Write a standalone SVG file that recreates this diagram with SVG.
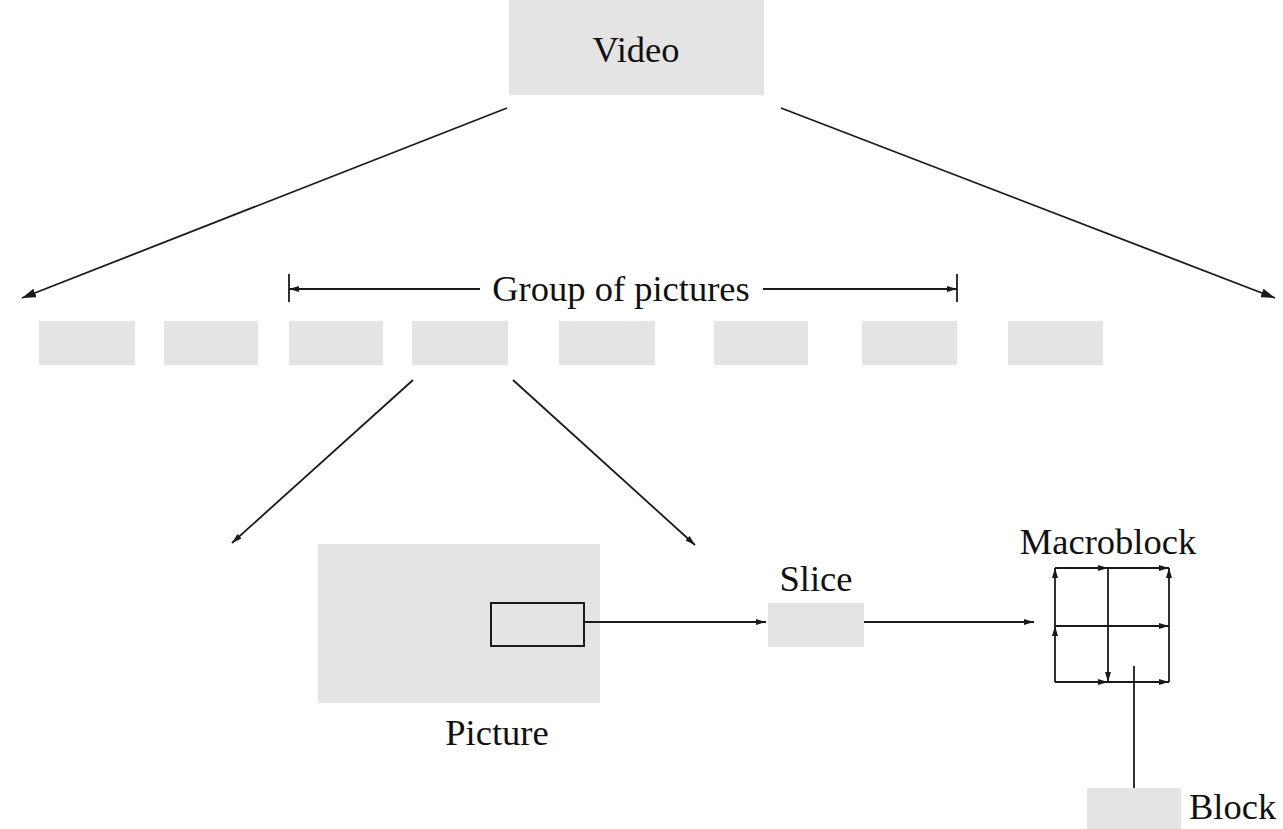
<svg xmlns="http://www.w3.org/2000/svg" width="1283" height="829" viewBox="0 0 1283 829">
  <style>
    .box { fill: #e4e4e4; stroke: none; }
    .ln { stroke: #1a1a1a; stroke-width: 1.8; fill: none; }
    .lbl { font-family: "Liberation Serif", "Times New Roman", serif; font-size: 36.5px; fill: #111; }
  </style>
  <defs>
    <marker id="arr" viewBox="0 0 14 9" refX="14" refY="4.5" markerWidth="14" markerHeight="9" markerUnits="userSpaceOnUse" orient="auto">
      <path d="M0,0 L14,4.5 L0,9 Z" fill="#1a1a1a"/>
    </marker>
    <marker id="arrs" viewBox="0 0 10 6" refX="10" refY="3" markerWidth="10" markerHeight="6" markerUnits="userSpaceOnUse" orient="auto">
      <path d="M0,0 L10,3 L0,6 Z" fill="#1a1a1a"/>
    </marker>
  </defs>

  <g id="video">
    <rect class="box" x="509" y="0" width="255" height="95"/>
    <text class="lbl" x="636" y="62" text-anchor="middle">Video</text>
  </g>

  <g id="frames">
    <rect class="box" x="39" y="321" width="96" height="44"/>
    <rect class="box" x="164" y="321" width="94" height="44"/>
    <rect class="box" x="289" y="321" width="94" height="44"/>
    <rect class="box" x="412" y="321" width="96" height="44"/>
    <rect class="box" x="559" y="321" width="96" height="44"/>
    <rect class="box" x="714" y="321" width="94" height="44"/>
    <rect class="box" x="862" y="321" width="95" height="44"/>
    <rect class="box" x="1008" y="321" width="95" height="44"/>
  </g>

  <g id="gop">
    <text class="lbl" x="621" y="301" text-anchor="middle">Group of pictures</text>
  </g>

  <g id="picture">
    <rect class="box" x="318" y="544" width="282" height="159"/>
    <rect x="491" y="603" width="93" height="43" fill="none" stroke="#1a1a1a" stroke-width="2"/>
    <text class="lbl" x="497" y="745" text-anchor="middle">Picture</text>
  </g>

  <g id="slice">
    <rect class="box" x="768" y="603" width="96" height="44"/>
    <text class="lbl" x="816" y="591" text-anchor="middle">Slice</text>
  </g>

  <g id="macroblock">
    <text class="lbl" x="1108" y="554" text-anchor="middle">Macroblock</text>
    <g class="ln">
      <line x1="1055" y1="682" x2="1055" y2="626" marker-end="url(#arrs)"/>
      <line x1="1055" y1="626" x2="1055" y2="568" marker-end="url(#arrs)"/>
      <line x1="1055" y1="568" x2="1108" y2="568" marker-end="url(#arrs)"/>
      <line x1="1108" y1="568" x2="1169" y2="568" marker-end="url(#arrs)"/>
      <line x1="1108" y1="568" x2="1108" y2="682" marker-end="url(#arrs)"/>
      <line x1="1055" y1="626" x2="1169" y2="626" marker-end="url(#arrs)"/>
      <line x1="1055" y1="682" x2="1108" y2="682" marker-end="url(#arrs)"/>
      <line x1="1108" y1="682" x2="1169" y2="682" marker-end="url(#arrs)"/>
      <line x1="1169" y1="682" x2="1169" y2="568" marker-end="url(#arrs)"/>
    </g>
  </g>

  <g id="block">
    <rect class="box" x="1087" y="788" width="94" height="41"/>
    <text class="lbl" x="1189" y="819">Block</text>
  </g>

  <g id="connectors" class="ln">
    <line x1="507" y1="108" x2="22" y2="298" marker-end="url(#arr)"/>
    <line x1="781" y1="108" x2="1275" y2="298" marker-end="url(#arr)"/>
    <line x1="289" y1="274" x2="289" y2="302"/>
    <line x1="480" y1="289" x2="289" y2="289" marker-end="url(#arrs)"/>
    <line x1="957" y1="274" x2="957" y2="302"/>
    <line x1="763" y1="289" x2="957" y2="289" marker-end="url(#arrs)"/>
    <line x1="413" y1="380" x2="232" y2="543" marker-end="url(#arrs)"/>
    <line x1="513" y1="380" x2="695" y2="545" marker-end="url(#arrs)"/>
    <line x1="584" y1="622" x2="766" y2="622" marker-end="url(#arrs)"/>
    <line x1="864" y1="622" x2="1034" y2="622" marker-end="url(#arrs)"/>
    <line x1="1134" y1="666" x2="1134" y2="788"/>
  </g>
</svg>
